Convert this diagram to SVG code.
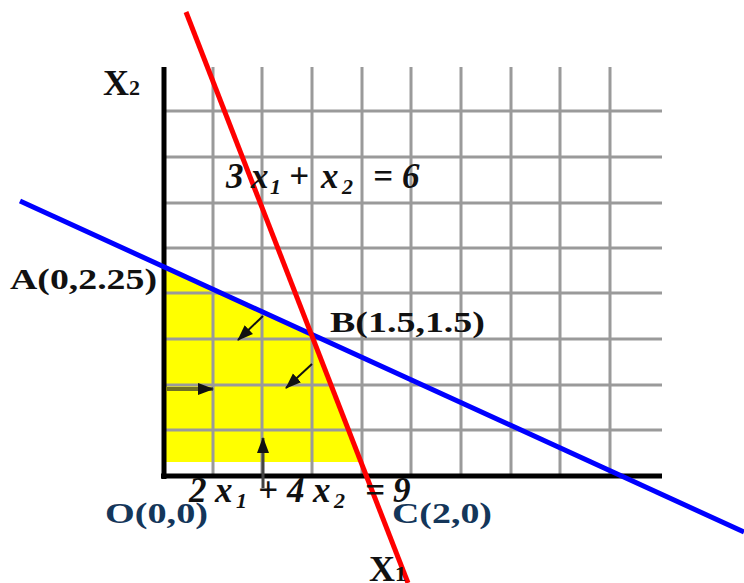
<svg xmlns="http://www.w3.org/2000/svg" width="744" height="583" viewBox="0 0 744 583">
  <style>
    .grid line { stroke: #9a9a9a; stroke-width: 3; }
    .axis { stroke: #000; stroke-width: 5; }
    .lbl { font-family: "Liberation Serif", "Times New Roman", serif; font-weight: bold; fill: #111; }
    .pt { font-size: 29px; }
    .nv { fill: #14365a; }
    .eq { font-family: "Liberation Serif", "Times New Roman", serif; font-weight: bold; font-style: italic; font-size: 35px; fill: #111; }
    .sub { font-size: 22px; }
    .arr { stroke: #111; stroke-width: 2; fill: none; }
  </style>
  <defs>
    <marker id="ah" viewBox="0 0 16 12" refX="15" refY="6" markerWidth="16" markerHeight="13" markerUnits="userSpaceOnUse" orient="auto">
      <path d="M0,0 L16,6 L0,12 Z" fill="#111"/>
    </marker>
  </defs>
  <rect width="744" height="583" fill="#fff"/>

  <g id="feasible-region">
    <polygon points="166,268 312,337 360,462 166,462" fill="#ffff00"/>
  </g>

  <g id="grid" class="grid">
    <line x1="213" y1="67" x2="213" y2="476"/>
    <line x1="262" y1="67" x2="262" y2="476"/>
    <line x1="312" y1="67" x2="312" y2="476"/>
    <line x1="362" y1="67" x2="362" y2="476"/>
    <line x1="411" y1="67" x2="411" y2="476"/>
    <line x1="461" y1="67" x2="461" y2="476"/>
    <line x1="511" y1="67" x2="511" y2="476"/>
    <line x1="560" y1="67" x2="560" y2="476"/>
    <line x1="610" y1="67" x2="610" y2="476"/>
    <line x1="164" y1="111" x2="662" y2="111"/>
    <line x1="164" y1="157" x2="662" y2="157"/>
    <line x1="164" y1="203" x2="662" y2="203"/>
    <line x1="164" y1="248" x2="662" y2="248"/>
    <line x1="164" y1="293" x2="662" y2="293"/>
    <line x1="164" y1="339" x2="662" y2="339"/>
    <line x1="164" y1="385" x2="662" y2="385"/>
    <line x1="164" y1="430" x2="662" y2="430"/>
  </g>

  <g id="axes">
    <line class="axis" x1="164" y1="67" x2="164" y2="479"/>
    <line class="axis" x1="161" y1="476" x2="662" y2="476"/>
  </g>

  <g id="connectors">
    <line id="line-2x1-4x2" x1="20" y1="201" x2="744" y2="532" stroke="#0000ff" stroke-width="5"/>
    <line id="line-3x1-x2" x1="186" y1="12" x2="408" y2="583" stroke="#ff0000" stroke-width="5"/>
    <line class="arr" x1="263" y1="316" x2="238" y2="340" marker-end="url(#ah)"/>
    <line class="arr" x1="312" y1="364" x2="286" y2="388" marker-end="url(#ah)"/>
    <line x1="167" y1="389" x2="213" y2="389" stroke="#333" stroke-opacity="0.7" stroke-width="4" marker-end="url(#ah)"/>
    <line x1="263" y1="488" x2="263" y2="438" stroke="#444" stroke-width="3" marker-end="url(#ah)"/>
  </g>

  <g id="axis-labels">
    <text class="lbl" x="103" y="95" font-size="36">X<tspan font-size="22">2</tspan></text>
    <text class="lbl" x="369" y="581" font-size="36">X<tspan font-size="22">1</tspan></text>
  </g>

  <g id="point-A"><text class="lbl pt" x="10" y="289" textLength="147" lengthAdjust="spacingAndGlyphs">A(0,2.25)</text></g>
  <g id="point-B"><text class="lbl pt" x="330" y="332" textLength="155" lengthAdjust="spacingAndGlyphs">B(1.5,1.5)</text></g>
  <g id="point-O"><text class="lbl pt nv" x="105" y="523" textLength="103" lengthAdjust="spacingAndGlyphs">O(0,0)</text></g>
  <g id="point-C"><text class="lbl pt nv" x="392" y="523" textLength="100" lengthAdjust="spacingAndGlyphs">C(2,0)</text></g>

  <g id="eq-red">
    <text class="eq" y="188"><tspan x="226">3</tspan><tspan x="251">x</tspan><tspan class="sub" x="270" y="194">1</tspan><tspan x="289" y="188">+</tspan><tspan x="321">x</tspan><tspan class="sub" x="342" y="194">2</tspan><tspan x="373" y="188">=</tspan><tspan x="402">6</tspan></text>
  </g>
  <g id="eq-blue">
    <text class="eq" y="502"><tspan x="189">2</tspan><tspan x="215">x</tspan><tspan class="sub" x="236" y="508">1</tspan><tspan x="258" y="502">+</tspan><tspan x="287">4</tspan><tspan x="313">x</tspan><tspan class="sub" x="334" y="508">2</tspan><tspan x="365" y="502">=</tspan><tspan x="393">9</tspan></text>
  </g>
</svg>
